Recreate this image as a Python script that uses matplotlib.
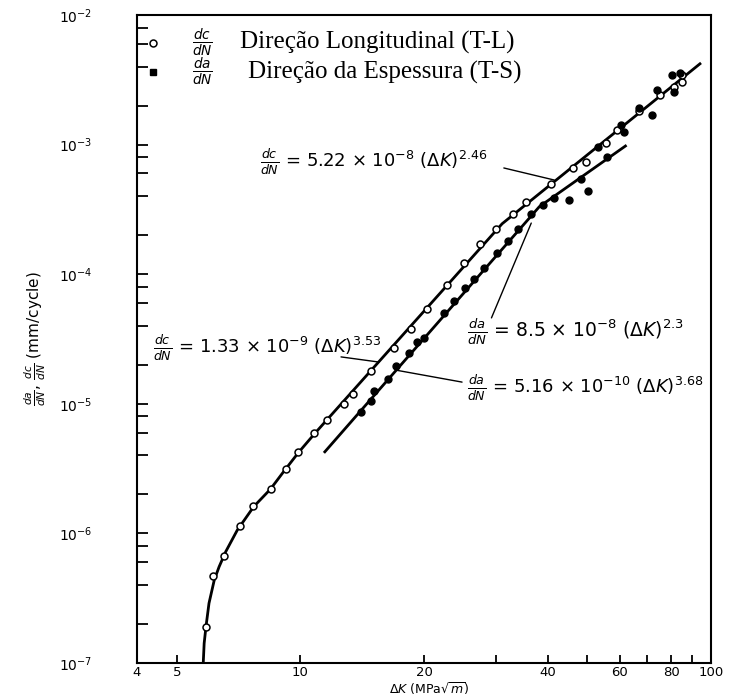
import matplotlib
matplotlib.use('Agg')
import matplotlib.pyplot as plt
from matplotlib.ticker import FixedLocator, FixedFormatter, NullFormatter

plt.rcParams['font.family'] = ['DejaVu Sans']
plt.rcParams['mathtext.fontset'] = 'dejavusans'

# ---------------- data ----------------
# open circles: dc/dN, Direcao Longitudinal (T-L)
dk_tl = [5.89, 6.11, 6.52, 7.12, 7.67, 8.48, 9.24, 9.85, 10.8, 11.6, 12.8, 13.4,
         14.9, 16.9, 18.6, 20.3, 22.7, 25.1, 27.4, 29.9, 32.9, 35.5, 40.7, 46.1,
         49.6, 55.5, 59.2, 66.8, 75.3, 81.1, 85.0, 85.2]
dcdn_tl = [1.91e-7, 4.72e-7, 6.7e-7, 1.14e-6, 1.63e-6, 2.19e-6, 3.14e-6, 4.27e-6,
           5.92e-6, 7.5e-6, 1.0e-5, 1.2e-5, 1.78e-5, 2.7e-5, 3.8e-5, 5.4e-5,
           8.2e-5, 1.22e-4, 1.7e-4, 2.25e-4, 2.9e-4, 3.6e-4, 4.94e-4, 6.6e-4,
           7.3e-4, 1.02e-3, 1.3e-3, 1.82e-3, 2.4e-3, 2.8e-3, 3.06e-3, 3.44e-3]

# filled points: da/dN, Direcao da Espessura (T-S)
dk_ts = [14.06, 14.87, 15.15, 16.32, 17.09, 18.41, 19.28, 20.0, 22.36, 23.64,
         25.22, 26.42, 27.93, 30.07, 32.1, 33.95, 36.54, 39.0, 41.5, 45.1, 50.1,
         48.3, 55.97, 52.96, 61.4, 60.26, 71.9, 66.75, 73.96, 81.1, 80.35, 84.1]
dadn_ts = [8.6e-6, 1.05e-5, 1.25e-5, 1.55e-5, 1.95e-5, 2.45e-5, 3.0e-5, 3.2e-5,
           5.0e-5, 6.2e-5, 7.8e-5, 9.2e-5, 1.12e-4, 1.45e-4, 1.8e-4, 2.25e-4,
           2.9e-4, 3.4e-4, 3.9e-4, 3.74e-4, 4.41e-4, 5.43e-4, 8.07e-4, 9.64e-4,
           1.26e-3, 1.42e-3, 1.69e-3, 1.91e-3, 2.64e-3, 2.56e-3, 3.44e-3, 3.55e-3]

# drawn curves (traced)
curve_tl_dk = [5.80, 5.83, 5.89, 5.99, 6.17, 6.34, 6.58, 7.02, 7.70, 8.45, 9.10,
               9.89, 10.85, 31.0, 94.0]
curve_tl_rate = [1.0e-7, 1.42e-7, 1.91e-7, 2.89e-7, 4.37e-7, 5.53e-7, 7.23e-7,
                 1.06e-6, 1.61e-6, 2.19e-6, 2.99e-6, 4.2e-6, 5.92e-6, 2.45e-4, 4.2e-3]
curve_ts_dk = [11.47, 38.2, 61.9]
curve_ts_rate = [4.26e-6, 3.32e-4, 9.75e-4]

x_tick_vals = [4, 5, 10, 20, 30, 40, 50, 60, 70, 80, 90, 100]
x_tick_labels = ['4', '5', '10', '20', '', '40', '', '60', '', '80', '', '100']
y_tick_vals = [1e-7, 1e-6, 1e-5, 1e-4, 1e-3, 1e-2]
y_tick_labels = [r'$10^{-7}$', r'$10^{-6}$', r'$10^{-5}$', r'$10^{-4}$',
                 r'$10^{-3}$', r'$10^{-2}$']

eq_tl_high = r'$\frac{dc}{dN}$ = 5.22 $\times$ 10$^{-8}$ ($\Delta K$)$^{2.46}$'
eq_tl_low = r'$\frac{dc}{dN}$ = 1.33 $\times$ 10$^{-9}$ ($\Delta K$)$^{3.53}$'
eq_ts_high = r'$\frac{da}{dN}$ = 8.5 $\times$ 10$^{-8}$ ($\Delta K$)$^{2.3}$'
eq_ts_low = r'$\frac{da}{dN}$ = 5.16 $\times$ 10$^{-10}$ ($\Delta K$)$^{3.68}$'

# ---------------- figure ----------------
fig = plt.figure(figsize=(7.31, 6.97), dpi=100)
ax = fig.add_axes([0.1874, 0.0488, 0.7852, 0.9297])
ax.set_xscale('log')
ax.set_yscale('log')
ax.set_xlim(4, 100)
ax.set_ylim(1e-7, 1e-2)

ax.plot(curve_tl_dk, curve_tl_rate, color='black', lw=2.0, zorder=2)
ax.plot(curve_ts_dk, curve_ts_rate, color='black', lw=2.0, zorder=2)
ax.plot(dk_tl, dcdn_tl, linestyle='none', marker='o', ms=5, mfc='white',
        mec='black', mew=1.1, zorder=3)
ax.plot(dk_ts, dadn_ts, linestyle='none', marker='o', ms=5, mfc='black',
        mec='black', zorder=3)

# ticks
ax.xaxis.set_major_locator(FixedLocator(x_tick_vals))
ax.xaxis.set_major_formatter(FixedFormatter(x_tick_labels))
ax.xaxis.set_minor_locator(FixedLocator([]))
ax.xaxis.set_minor_formatter(NullFormatter())
minor_y = [m * d for d in [1e-7, 1e-6, 1e-5, 1e-4, 1e-3] for m in (2, 4, 6, 8)]
ax.yaxis.set_major_locator(FixedLocator(y_tick_vals))
ax.yaxis.set_major_formatter(FixedFormatter(y_tick_labels))
ax.yaxis.set_minor_locator(FixedLocator(minor_y))
ax.yaxis.set_minor_formatter(NullFormatter())
ax.tick_params(axis='both', which='both', direction='in', top=False, right=False,
               width=1.3, colors='black', labelsize=10)
ax.tick_params(axis='y', which='both', length=8, pad=32)
ax.tick_params(axis='x', which='both', length=6, pad=2, labelsize=9.5)
for sp in ax.spines.values():
    sp.set_linewidth(1.5)

fig.text(0.587, 0.0, r'$\Delta K$ (MPa$\sqrt{m}$)', fontsize=9,
         ha='center', va='bottom')
ax.set_ylabel(r'$\frac{da}{dN}$, $\frac{dc}{dN}$ (mm/cycle)', fontsize=11, labelpad=8)

# legend (manual)
ax.plot([0.028], [0.957], transform=ax.transAxes, marker='o', ms=5, mfc='white',
        mec='black', mew=1.1, clip_on=False)
ax.plot([0.028], [0.912], transform=ax.transAxes, marker='s', ms=5, mfc='black',
        mec='black', clip_on=False)
ax.text(0.114, 0.957, r'$\frac{dc}{dN}$', transform=ax.transAxes, fontsize=14,
        ha='center', va='center')
ax.text(0.114, 0.912, r'$\frac{da}{dN}$', transform=ax.transAxes, fontsize=14,
        ha='center', va='center')
ax.text(0.179, 0.957, 'Direção Longitudinal (T-L)', transform=ax.transAxes,
        fontsize=18, family='Liberation Serif', ha='left', va='center')
ax.text(0.193, 0.912, 'Direção da Espessura (T-S)', transform=ax.transAxes,
        fontsize=18, family='Liberation Serif', ha='left', va='center')

# equations
ax.text(0.2143, 0.7731, eq_tl_high, transform=ax.transAxes, fontsize=13,
        ha='left', va='center')
ax.text(0.0279, 0.4861, eq_tl_low, transform=ax.transAxes, fontsize=13,
        ha='left', va='center')
ax.text(0.5749, 0.5108, eq_ts_high, transform=ax.transAxes, fontsize=13.5,
        ha='left', va='center')
ax.text(0.5749, 0.4244, eq_ts_low, transform=ax.transAxes, fontsize=13,
        ha='left', va='center')

lead = dict(arrowstyle='-', color='black', lw=1.0, shrinkA=0, shrinkB=0)
ax.annotate('', xy=(41.5, 5.33e-4), xytext=(31.3, 6.6e-4), arrowprops=lead)
ax.annotate('', xy=(15.51, 2.10e-5), xytext=(12.56, 2.30e-5), arrowprops=lead)
ax.annotate('', xy=(36.5, 2.48e-4), xytext=(29.2, 4.6e-5), arrowprops=lead)
ax.annotate('', xy=(24.76, 1.47e-5), xytext=(17.06, 1.82e-5), arrowprops=lead)

fig.savefig('out.png', dpi=100, facecolor='white')
